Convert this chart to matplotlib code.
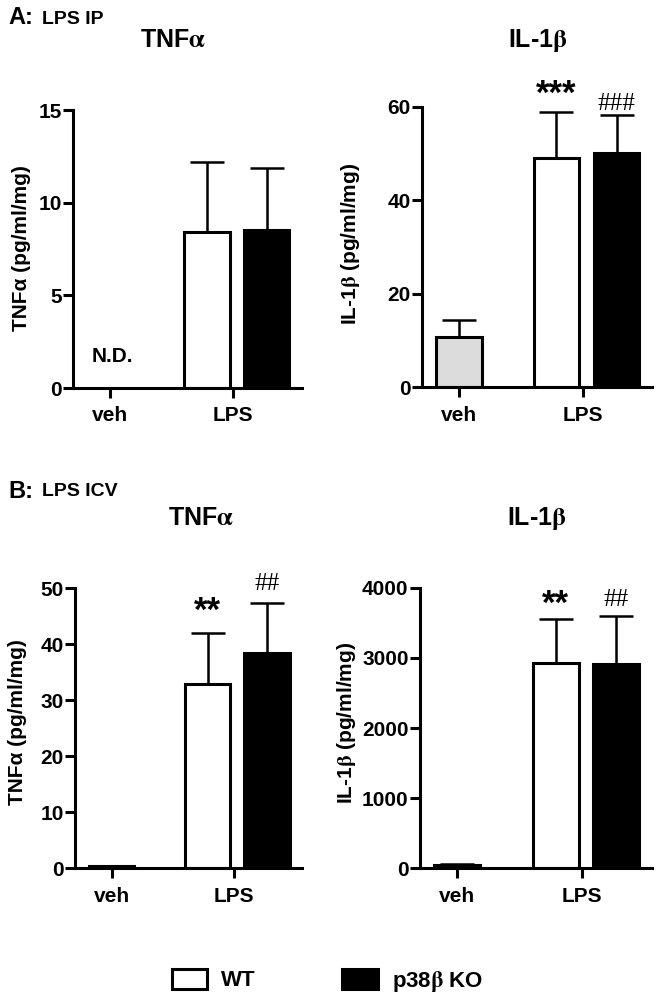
import matplotlib
matplotlib.use("Agg")
import matplotlib.pyplot as plt
from matplotlib.patches import Patch

plt.rcParams['font.family'] = ['Liberation Sans', 'DejaVu Sans']
plt.rcParams['font.weight'] = 'bold'
plt.rcParams['mathtext.fontset'] = 'stix'

# ---------------- data ----------------
groups = ['veh', 'LPS']
# Panel A: LPS IP
a_tnf_wt, a_tnf_wt_err = 8.4, 3.8
a_tnf_ko, a_tnf_ko_err = 8.5, 3.35
a_il_veh, a_il_veh_err = 10.8, 3.6
a_il_wt, a_il_wt_err = 49.0, 9.8
a_il_ko, a_il_ko_err = 50.0, 8.3
# Panel B: LPS ICV
b_tnf_veh, b_tnf_veh_err = 0.4, 0.1
b_tnf_wt, b_tnf_wt_err = 32.9, 9.2
b_tnf_ko, b_tnf_ko_err = 38.5, 8.9
b_il_veh, b_il_veh_err = 50, 10
b_il_wt, b_il_wt_err = 2930, 620
b_il_ko, b_il_ko_err = 2910, 690

yticks_a_tnf = [0, 5, 10, 15]
yticks_a_il = [0, 20, 40, 60]
yticks_b_tnf = [0, 10, 20, 30, 40, 50]
yticks_b_il = [0, 1000, 2000, 3000, 4000]

ALPHA = r'$\mathrm{\alpha}$'
BETA = r'$\mathrm{\beta}$'

W, H = 660, 999
fig = plt.figure(figsize=(6.6, 9.99), dpi=100)

def ax_rect(left, right, bottom, top):
    return [left / W, 1 - bottom / H, (right - left) / W, (bottom - top) / H]

LW = 2.2
BW = 0.37
OFF = 0.243
GC = 1.03

def style_ax(ax, yticks):
    for s in ['top', 'right']:
        ax.spines[s].set_visible(False)
    for s in ['left', 'bottom']:
        ax.spines[s].set_linewidth(LW)
    ax.set_xlim(-0.30, 1.56)
    ax.set_ylim(yticks[0], yticks[-1])
    ax.set_yticks(yticks)
    ax.set_xticks([0, 1])
    ax.set_xticklabels(groups)
    ax.tick_params(axis='both', length=7.2, width=LW, labelsize=15)
    ax.tick_params(axis='y', pad=1)
    ax.tick_params(axis='x', pad=6)
    for lab in ax.get_xticklabels() + ax.get_yticklabels():
        lab.set_fontweight('bold')

def draw_bar(ax, x, val, err, color):
    ax.bar([x], [val], width=BW, color=color, edgecolor='black',
           linewidth=LW, zorder=2)
    ax.errorbar([x], [val], yerr=[[0], [err]], fmt='none', ecolor='black',
                elinewidth=1.8, capsize=12, capthick=1.8, zorder=1)

def mark(ax, x, ytop, s, off_pt, stars=True):
    if stars:
        ax.annotate(s, (x, ytop), xytext=(0, off_pt), textcoords='offset points',
                    ha='center', va='baseline', fontsize=25, fontweight='bold',
                    annotation_clip=False)
    else:
        ax.annotate(s, (x, ytop), xytext=(0, off_pt), textcoords='offset points',
                    ha='center', va='baseline', fontsize=18,
                    family='Liberation Serif', fontweight='normal',
                    annotation_clip=False)

# A TNF
ax1 = fig.add_axes(ax_rect(73, 302, 388, 110))
style_ax(ax1, yticks_a_tnf)
draw_bar(ax1, GC - OFF, a_tnf_wt, a_tnf_wt_err, 'white')
draw_bar(ax1, GC + OFF, a_tnf_ko, a_tnf_ko_err, 'black')
ax1.text(0.016, 1.7, 'N.D.', ha='center', va='center', fontsize=15, fontweight='bold')

# A IL
ax2 = fig.add_axes(ax_rect(422, 652, 387.3, 106.7))
style_ax(ax2, yticks_a_il)
draw_bar(ax2, 0, a_il_veh, a_il_veh_err, '#dcdcdc')
draw_bar(ax2, GC - OFF, a_il_wt, a_il_wt_err, 'white')
draw_bar(ax2, GC + OFF, a_il_ko, a_il_ko_err, 'black')
mark(ax2, GC - OFF, a_il_wt + a_il_wt_err, '***', 6.0)
mark(ax2, GC + OFF, a_il_ko + a_il_ko_err, '###', 3.6, stars=False)

# B TNF
ax3 = fig.add_axes(ax_rect(75, 302, 868.3, 588.3))
style_ax(ax3, yticks_b_tnf)
draw_bar(ax3, 0, b_tnf_veh, b_tnf_veh_err, '#dcdcdc')
draw_bar(ax3, GC - OFF, b_tnf_wt, b_tnf_wt_err, 'white')
draw_bar(ax3, GC + OFF, b_tnf_ko, b_tnf_ko_err, 'black')
mark(ax3, GC - OFF, b_tnf_wt + b_tnf_wt_err, '**', 8.5)
mark(ax3, GC + OFF, b_tnf_ko + b_tnf_ko_err, '##', 9.4, stars=False)

# B IL
ax4 = fig.add_axes(ax_rect(420, 652, 868.3, 587.7))
style_ax(ax4, yticks_b_il)
draw_bar(ax4, 0, b_il_veh, b_il_veh_err, '#dcdcdc')
draw_bar(ax4, GC - OFF, b_il_wt, b_il_wt_err, 'white')
draw_bar(ax4, GC + OFF, b_il_ko, b_il_ko_err, 'black')
mark(ax4, GC - OFF, b_il_wt + b_il_wt_err, '**', 3.8)
mark(ax4, GC + OFF, b_il_ko + b_il_ko_err, '##', 7.2, stars=False)

def ftext(x, y, s, **kw):
    fig.text(x / W, 1 - y / H, s, **kw)

# panel labels
ftext(8, 18, 'A:', fontsize=17, fontweight='bold', va='center', ha='left')
ftext(42, 19, 'LPS IP', fontsize=14, fontweight='bold', va='center', ha='left')
ftext(8, 491, 'B:', fontsize=17, fontweight='bold', va='center', ha='left')
ftext(42, 492, 'LPS ICV', fontsize=14, fontweight='bold', va='center', ha='left')

# titles
ftext(173, 40, 'TNF' + ALPHA, fontsize=18, fontweight='bold', ha='center', va='center')
ftext(538, 40, 'IL-1' + BETA, fontsize=18, fontweight='bold', ha='center', va='center')
ftext(201, 518, 'TNF' + ALPHA, fontsize=18, fontweight='bold', ha='center', va='center')
ftext(537, 518, 'IL-1' + BETA, fontsize=18, fontweight='bold', ha='center', va='center')

# y labels
ftext(22, 248, 'TNFα (pg/ml/mg)', fontsize=15, fontweight='bold', rotation=90,
      ha='center', va='center')
ftext(351, 244, 'IL-1' + BETA + ' (pg/ml/mg)', fontsize=15, fontweight='bold',
      rotation=90, ha='center', va='center')
ftext(18, 722, 'TNFα (pg/ml/mg)', fontsize=15, fontweight='bold', rotation=90,
      ha='center', va='center')
ftext(347, 723, 'IL-1' + BETA + ' (pg/ml/mg)', fontsize=15, fontweight='bold',
      rotation=90, ha='center', va='center')

# legend
handles = [Patch(facecolor='white', edgecolor='black', linewidth=LW),
           Patch(facecolor='black', edgecolor='black', linewidth=LW)]
labels = ['WT', 'p38' + BETA + ' KO']
leg = fig.legend(handles, labels, loc='center left',
                 bbox_to_anchor=(172 / W, 1 - 981 / H), ncol=2, frameon=False,
                 fontsize=16, handlelength=1.58, handleheight=1.0,
                 handletextpad=0.63, columnspacing=3.9, borderpad=0,
                 borderaxespad=0)
for t in leg.get_texts():
    t.set_fontweight('bold')

fig.savefig('out.png', dpi=100)
